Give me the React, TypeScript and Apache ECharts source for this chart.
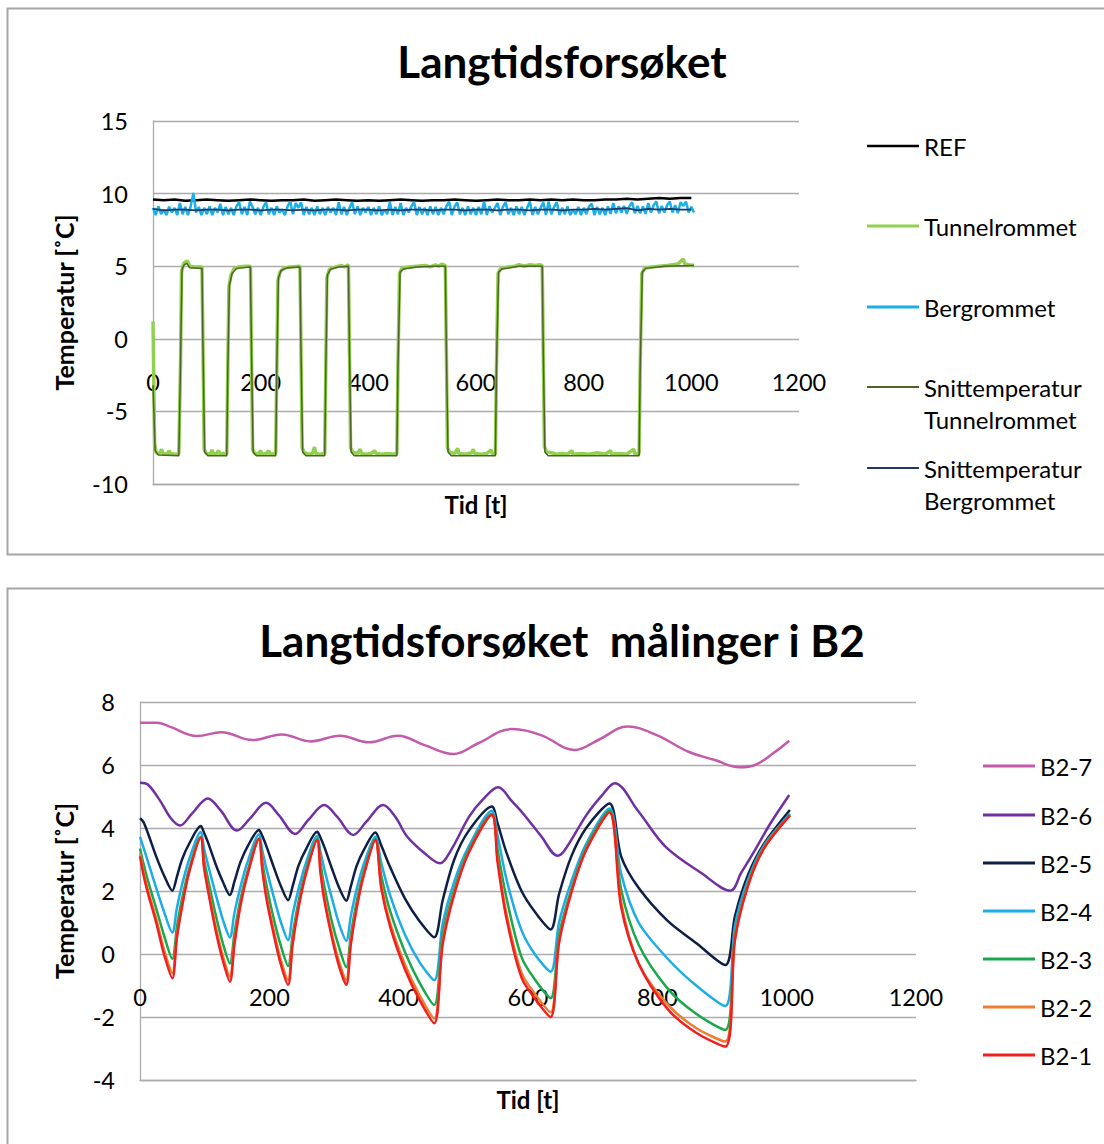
import React, { useEffect, useRef } from "react";
import * as echarts from "echarts";

const FONT = "Lato, 'Open Sans', 'Liberation Sans', sans-serif";

const TOP_TITLE = "Langtidsforsøket";
const BOTTOM_TITLE = "Langtidsforsøket  målinger i B2";
const Y_NAME = "Temperatur [˚C]";
const X_NAME = "Tid [t]";

const xTicks = [0, 200, 400, 600, 800, 1000, 1200];
const yTicksTop = [-10, -5, 0, 5, 10, 15];
const yTicksBottom = [-4, -2, 0, 2, 4, 6, 8];

const topNames = ["REF", "Tunnelrommet", "Bergrommet", "Snittemperatur Tunnelrommet", "Snittemperatur Bergrommet"];
const topColors = ["#000000", "#92D050", "#1AAFE8", "#4F6228", "#1F3864"];

// REF, sampled every 20 h
const REF_STEP = 20;
const refValues = [
  9.6, 9.55, 9.6, 9.5, 9.55, 9.6, 9.55, 9.5, 9.55, 9.6,
  9.55, 9.5, 9.55, 9.55, 9.6, 9.5, 9.55, 9.6, 9.55, 9.5,
  9.55, 9.5, 9.55, 9.6, 9.55, 9.5, 9.55, 9.55, 9.6, 9.55,
  9.5, 9.55, 9.6, 9.55, 9.55, 9.6, 9.55, 9.6, 9.55, 9.6,
  9.55, 9.55, 9.6, 9.6, 9.65, 9.6, 9.65, 9.7, 9.65, 9.7, 9.7,
];

// Bergrommet, sampled every 5 h
const BERG_STEP = 5;
const bergValues = [
  9.02, 8.52, 9.12, 8.58, 8.9, 8.52, 9.1, 8.7, 9.02, 8.52, 9.35, 8.58, 9.08, 8.52, 9.12, 10.05, 8.7, 9.08, 8.52, 9.02,
  8.58, 9.12, 8.52, 9.02, 8.7, 9.3, 8.52, 9.08, 8.58, 9.02, 8.52, 9.12, 9.4, 8.58, 9.08, 8.52, 9.45, 9.08, 8.58, 9.02,
  8.52, 9.08, 9.4, 8.58, 9.02, 8.52, 9.12, 8.7, 8.9, 8.52, 9.12, 9.45, 8.58, 9.35, 9.02, 9.4, 8.52, 9.08, 8.58, 9.02,
  8.52, 9.12, 8.58, 9.02, 8.52, 9.08, 8.7, 9.02, 8.52, 9.4, 8.58, 9.08, 8.52, 9.02, 9.4, 8.58, 9.12, 8.52, 9.02, 8.7,
  9.08, 8.52, 9.02, 8.58, 9.12, 8.52, 8.9, 8.58, 9.4, 8.52, 9.08, 8.58, 9.35, 8.52, 9.02, 8.7, 9.12, 9.4, 8.52, 9.08,
  8.58, 9.02, 8.52, 9.12, 8.58, 9.08, 8.52, 9.02, 8.58, 9.12, 9.45, 8.52, 9.08, 9.4, 8.58, 9.02, 8.52, 9.12, 8.58, 9.02,
  8.52, 9.08, 8.58, 9.45, 8.52, 9.12, 8.7, 9.02, 9.35, 8.52, 9.08, 9.4, 8.58, 9.02, 8.52, 9.12, 8.58, 9.08, 8.52, 9.02,
  9.45, 8.52, 9.08, 8.58, 9.02, 9.4, 8.52, 9.45, 8.58, 9.08, 9.4, 8.52, 9.02, 8.58, 9.12, 8.52, 8.9, 8.58, 9.08, 8.52,
  9.02, 8.58, 9.12, 9.3, 8.52, 9.08, 8.58, 9.02, 8.52, 9.12, 8.6, 9.35, 8.65, 9.12, 8.7, 9.15, 8.6, 9.12, 9.4, 8.65,
  9.15, 8.65, 9.12, 8.6, 9.35, 8.7, 9.2, 9.45, 8.65, 9.15, 8.7, 9.2, 9.45, 8.7, 9.2, 8.65, 9.4, 9.15, 9.45, 8.7,
  9.1, 8.7,
];

// Snittemperatur Bergrommet, every 20 h
const SNITT_BERG_STEP = 20;
const snittBergValues = [
  8.95, 8.85, 8.9, 8.9, 8.85, 8.9, 8.9, 8.85, 8.9, 8.9,
  8.85, 8.9, 8.9, 8.85, 8.9, 8.85, 8.9, 8.9, 8.85, 8.9,
  8.9, 8.85, 8.9, 8.85, 8.9, 8.9, 8.85, 8.9, 8.9, 8.85,
  8.9, 8.9, 8.85, 8.9, 8.9, 8.85, 8.9, 8.9, 8.85, 8.9,
  8.9, 8.95, 8.9, 8.95, 9.0, 8.85, 8.95, 8.9, 8.95, 8.9, 8.9,
];

// Tunnelrommet [t, value]
const tunnelPoints = [
  [0, 1.2], [3, -7.2], [6, -7.85], [12, -7.9], [16, -7.6], [18, -7.9], [26, -7.95], [30, -7.7], [32, -7.9], [40, -7.95], [48, -7.9],
  [51, -2], [53, 4.6], [57, 5.2], [62, 5.35], [65, 5.3], [68, 5.0], [80, 4.95], [91, 4.95],
  [93, -1], [95, -7.6], [99, -7.9], [106, -7.95], [110, -7.65], [112, -7.95], [118, -7.9], [122, -7.7], [124, -7.95], [131, -7.9], [137, -7.95],
  [139, -2], [141, 3.6], [145, 4.4], [150, 4.8], [160, 4.95], [172, 5.0], [181, 5.0],
  [183, -1], [185, -7.6], [189, -7.9], [195, -7.95], [200, -7.7], [202, -7.95], [210, -7.9], [215, -7.7], [217, -7.95], [228, -7.9],
  [230, -2], [232, 4.0], [236, 4.6], [242, 4.85], [255, 4.95], [273, 5.0],
  [275, -1], [277, -7.5], [281, -7.85], [290, -7.95], [296, -7.9], [300, -7.45], [302, -7.9], [310, -7.95], [319, -7.9],
  [321, -2], [323, 4.2], [328, 4.8], [340, 4.95], [350, 5.05], [356, 4.95], [363, 5.1],
  [365, -1], [367, -7.5], [371, -7.8], [380, -7.9], [385, -7.6], [387, -7.9], [395, -7.95], [405, -7.9], [412, -7.7], [414, -7.9], [425, -7.95], [435, -7.9], [445, -7.95], [453, -7.9],
  [455, -2], [458, 4.5], [462, 4.85], [475, 4.95], [490, 5.0], [505, 5.05], [515, 4.95], [525, 5.1], [530, 5.0], [537, 5.15], [543, 5.05],
  [545, -1], [547, -7.5], [551, -7.8], [560, -7.9], [566, -7.55], [568, -7.9], [580, -7.95], [592, -7.85], [595, -7.6], [597, -7.9], [610, -7.95], [620, -7.9], [628, -7.65], [630, -7.9], [636, -7.95],
  [638, -2], [641, 4.5], [646, 4.85], [660, 4.95], [672, 5.0], [680, 5.1], [690, 5.0], [700, 5.1], [710, 5.05], [718, 5.1], [723, 5.05],
  [725, -1], [727, -7.4], [731, -7.8], [740, -7.85], [750, -7.95], [760, -7.9], [770, -7.95], [778, -7.7], [780, -7.95], [795, -7.9], [810, -7.95], [825, -7.85], [840, -7.95], [850, -7.7], [852, -7.95], [865, -7.9], [880, -7.95], [893, -7.6], [895, -7.95], [903, -7.9],
  [905, -2], [908, 4.5], [913, 4.85], [925, 4.95], [940, 5.0], [955, 5.05], [965, 5.1], [975, 5.15], [985, 5.5], [988, 5.15], [995, 5.1], [1005, 5.05],
];

// Snittemperatur Tunnelrommet [t, value]
const snittTunnelPoints = [
  [0, -3.2], [4, -7.7], [10, -8.0], [48, -8.05], [51, -2], [54, 4.8], [58, 5.1], [63, 5.2], [68, 4.9], [91, 4.85],
  [93, -1], [96, -7.8], [102, -8.05], [137, -8.05], [139, -2], [142, 3.7], [147, 4.5], [155, 4.85], [181, 4.95],
  [183, -1], [186, -7.8], [192, -8.05], [228, -8.05], [230, -2], [233, 4.2], [238, 4.7], [250, 4.9], [273, 4.95],
  [275, -1], [278, -7.8], [284, -8.05], [319, -8.05], [321, -2], [324, 4.4], [330, 4.8], [345, 4.95], [363, 5.0],
  [365, -1], [368, -7.8], [374, -8.05], [453, -8.05], [455, -2], [459, 4.6], [465, 4.8], [490, 4.95], [520, 5.0], [543, 5.0],
  [545, -1], [548, -7.8], [554, -8.05], [636, -8.05], [638, -2], [642, 4.6], [648, 4.8], [680, 5.0], [723, 5.0],
  [725, -1], [728, -7.8], [734, -8.05], [903, -8.05], [905, -2], [909, 4.6], [915, 4.85], [950, 5.0], [1005, 5.05],
];

// Bottom chart: B2 sensors
const b2Names = ["B2-7", "B2-6", "B2-5", "B2-4", "B2-3", "B2-2", "B2-1"];
const b2Colors = ["#C45BAA", "#7030A0", "#0E1F45", "#1CADE4", "#19A84C", "#ED7D31", "#F02020"];

const b2Time = [
  0, 5, 12, 25, 37, 50, 57, 65, 76, 94,
  99, 105, 117, 128, 139, 146, 155, 166, 184,
  189, 195, 207, 218, 229, 236, 245, 256, 274,
  279, 285, 297, 308, 319, 326, 335, 346, 364,
  373, 387, 410, 432, 455, 468, 486, 508, 544,
  553, 567, 590, 612, 635, 648, 667, 690, 726,
  744, 771, 816, 860, 905, 920, 940, 965, 1005,
];
const b2_1 = [
  3.1, 2.55, 1.95, 1.0, 0.0, -0.77, 0.5, 1.5, 2.6, 3.7,
  2.75, 2.03, 0.75, -0.2, -0.88, 0.3, 1.5, 2.5, 3.65,
  2.7, 1.82, 0.6, -0.35, -0.98, 0.3, 1.45, 2.5, 3.62,
  2.6, 1.71, 0.5, -0.4, -0.98, 0.3, 1.45, 2.5, 3.62,
  2.1, 0.85, -0.5, -1.45, -2.2, 0.3, 1.9, 3.2, 4.41,
  2.9, 1.1, -0.75, -1.45, -2.0, 0.35, 1.95, 3.3, 4.5,
  1.5, -0.3, -1.75, -2.5, -2.94, 0.44, 2.15, 3.35, 4.4,
];
const b2_2 = [
  3.2, 2.65, 2.05, 1.12, 0.15, -0.6, 0.6, 1.55, 2.62, 3.7,
  2.8, 2.12, 0.87, -0.05, -0.72, 0.4, 1.55, 2.52, 3.65,
  2.78, 1.92, 0.72, -0.2, -0.82, 0.4, 1.5, 2.52, 3.62,
  2.68, 1.82, 0.62, -0.25, -0.82, 0.4, 1.5, 2.52, 3.62,
  2.2, 0.97, -0.35, -1.3, -2.05, 0.4, 1.95, 3.22, 4.42,
  3.0, 1.25, -0.6, -1.3, -1.85, 0.42, 1.98, 3.32, 4.5,
  1.65, -0.3, -1.6, -2.35, -2.78, 0.5, 2.18, 3.37, 4.4,
];
const b2_3 = [
  3.35, 2.9, 2.35, 1.45, 0.6, -0.15, 0.85, 1.75, 2.7, 3.72,
  3.0, 2.4, 1.25, 0.35, -0.3, 0.65, 1.7, 2.6, 3.67,
  2.95, 2.25, 1.1, 0.25, -0.38, 0.6, 1.65, 2.6, 3.65,
  2.9, 2.15, 1.0, 0.2, -0.42, 0.6, 1.65, 2.6, 3.65,
  2.5, 1.35, 0.05, -0.9, -1.62, 0.6, 2.05, 3.28, 4.45,
  3.3, 1.75, -0.1, -0.85, -1.4, 0.6, 2.05, 3.38, 4.55,
  2.05, 0.3, -1.1, -1.9, -2.41, 0.6, 2.22, 3.4, 4.42,
];
const b2_4 = [
  3.72, 3.4, 2.95, 2.1, 1.35, 0.68, 1.45, 2.2, 3.0, 3.87,
  3.35, 2.85, 1.9, 1.1, 0.53, 1.3, 2.1, 2.9, 3.8,
  3.3, 2.75, 1.8, 1.0, 0.44, 1.25, 2.05, 2.85, 3.75,
  3.25, 2.7, 1.75, 0.95, 0.42, 1.2, 2.05, 2.85, 3.72,
  2.9, 1.85, 0.6, -0.25, -0.83, 0.95, 2.3, 3.4, 4.55,
  3.75, 2.35, 0.75, -0.05, -0.56, 1.0, 2.3, 3.5, 4.62,
  2.55, 1.0, -0.15, -1.0, -1.65, 0.9, 2.35, 3.45, 4.45,
];
const b2_5 = [
  4.31, 4.2, 3.85, 3.1, 2.5, 2.01, 2.45, 3.0, 3.5, 4.06,
  3.85, 3.55, 2.85, 2.3, 1.87, 2.3, 2.9, 3.4, 3.94,
  3.75, 3.45, 2.75, 2.15, 1.71, 2.15, 2.8, 3.3, 3.88,
  3.7, 3.4, 2.7, 2.1, 1.69, 2.15, 2.8, 3.3, 3.86,
  3.45, 2.75, 1.75, 1.05, 0.53, 1.7, 3.0, 3.9, 4.68,
  4.15, 3.2, 2.0, 1.3, 0.78, 1.9, 3.1, 4.0, 4.78,
  3.1, 2.1, 1.05, 0.35, -0.35, 1.2, 2.5, 3.5, 4.57,
];
const b26Time = [
  0, 12, 30, 48, 62, 80, 105, 125, 150, 170, 195, 215, 240, 260, 285, 305, 330, 350, 376, 395,
  413, 440, 464, 481, 509, 530, 554, 575, 592, 620, 646, 657, 690, 715, 734, 770, 813, 868, 913, 930, 951, 975, 1004,
];
const b2_6 = [
  5.44, 5.38, 4.9, 4.3, 4.08, 4.45, 4.94, 4.55, 3.92, 4.3, 4.8, 4.4, 3.81, 4.25, 4.73, 4.35, 3.78, 4.2, 4.73, 4.35,
  3.73, 3.2, 2.88, 3.3, 4.36, 4.9, 5.29, 4.85, 4.47, 3.75, 3.12, 3.3, 4.4, 5.05, 5.42, 4.55, 3.4, 2.57, 2.01, 2.59, 3.3, 4.15, 5.05,
];
const b27Time = [0, 26, 46, 88, 126, 174, 219, 264, 309, 354, 399, 440, 485, 523, 575, 620, 672, 710, 754, 799, 848, 889, 927, 951, 979, 1004];
const b2_7 = [7.34, 7.34, 7.22, 6.92, 7.04, 6.79, 6.97, 6.75, 6.93, 6.72, 6.93, 6.63, 6.35, 6.69, 7.14, 6.95, 6.48, 6.81, 7.22, 6.95, 6.42, 6.16, 5.93, 6.0, 6.37, 6.77];

const GRID_COLOR = "#ABABAB";

function stepPairs(step: number, values: number[]) {
  return values.map((v, i) => [i * step, v]);
}
function zip(times: number[], values: number[]) {
  return times.map((t, i) => [t, values[i]]);
}

function axisPair(gridIndex: number, yTicks: number[], labelMargin: number, xNameGap: number, yNameGap: number) {
  const yInterval = yTicks[1] - yTicks[0];
  const xInterval = xTicks[1] - xTicks[0];
  const xAxis = {
    type: "value",
    gridIndex,
    position: "bottom",
    min: xTicks[0],
    max: xTicks[xTicks.length - 1],
    interval: xInterval,
    axisLine: { show: true, onZero: false, lineStyle: { color: GRID_COLOR, width: 1.3 } },
    axisTick: { show: false },
    splitLine: { show: false },
    axisLabel: {
      margin: labelMargin,
      fontSize: 23.5,
      color: "#000",
      fontFamily: FONT,
      formatter: (v: number) => String(v),
    },
    name: X_NAME,
    nameLocation: "middle",
    nameGap: xNameGap,
    nameMoveOverlap: false,
    nameTextStyle: { fontSize: 24, fontWeight: "bold", color: "#000", fontFamily: FONT },
  };
  const yAxis = {
    type: "value",
    gridIndex,
    min: yTicks[0],
    max: yTicks[yTicks.length - 1],
    interval: yInterval,
    axisLine: { show: true, onZero: false, lineStyle: { color: GRID_COLOR, width: 1.3 } },
    axisTick: { show: false },
    splitLine: { show: true, lineStyle: { color: GRID_COLOR, width: 1.3 } },
    axisLabel: {
      margin: 25,
      fontSize: 23.5,
      color: "#000",
      fontFamily: FONT,
      formatter: (v: number) => String(v),
    },
    name: Y_NAME,
    nameLocation: "middle",
    nameRotate: 90,
    nameGap: yNameGap,
    nameMoveOverlap: false,
    nameTextStyle: { fontSize: 25, fontWeight: "bold", color: "#000", fontFamily: FONT },
  };
  return { xAxis, yAxis };
}

function legendItem(name: string, left: number, centerY: number, twoLine: boolean, iconH: number) {
  const lh = 32;
  return {
    data: [name],
    left,
    top: twoLine ? centerY - lh * 1.5 : centerY - lh / 2,
    orient: "vertical",
    padding: 0,
    itemGap: 0,
    itemWidth: 52,
    itemHeight: iconH,
    icon: "rect",
    selectedMode: false,
    formatter: (n: string) => (twoLine ? "\n" + n.replace(" ", "\n") : n),
    textStyle: { fontSize: 24, color: "#000", fontFamily: FONT, lineHeight: lh },
  };
}

function lineSeries(name: string, color: string, width: number, data: number[][], gridIndex: number, z: number, smooth: number) {
  return {
    type: "line",
    name,
    data,
    xAxisIndex: gridIndex,
    yAxisIndex: gridIndex,
    showSymbol: false,
    symbol: "none",
    smooth: smooth > 0 ? smooth : false,
    lineStyle: { color, width },
    itemStyle: { color },
    emphasis: { disabled: true },
    silent: true,
    z,
  };
}

export default function App() {
  const ref = useRef<HTMLDivElement>(null);

  useEffect(() => {
    if (!ref.current) return;
    const chart = echarts.init(ref.current, undefined, { renderer: "svg" });

    const top = axisPair(0, yTicksTop, -114, 8, 77);
    const bottom = axisPair(1, yTicksBottom, -95, 7, 64);

    const topLegendY = [146, 226, 307, 387, 468];
    const topIconH = [2.5, 3, 3, 2, 2];
    const bottomLegendY = [766, 815, 863, 911, 959, 1007, 1055];

    const option = {
      animation: false,
      backgroundColor: "#ffffff",
      title: [
        {
          text: TOP_TITLE,
          left: 562,
          top: 61,
          padding: 0,
          textAlign: "center",
          textVerticalAlign: "middle",
          textStyle: { fontSize: 44, fontWeight: "bold", color: "#000", fontFamily: FONT },
        },
        {
          text: BOTTOM_TITLE,
          left: 562,
          top: 640,
          padding: 0,
          textAlign: "center",
          textVerticalAlign: "middle",
          textStyle: { fontSize: 44, fontWeight: "bold", color: "#000", fontFamily: FONT },
        },
      ],
      grid: [
        { left: 153, top: 121, width: 646, height: 363, outerBoundsMode: "none", containLabel: false },
        { left: 140, top: 702, width: 776, height: 378, outerBoundsMode: "none", containLabel: false },
      ],
      xAxis: [top.xAxis, bottom.xAxis],
      yAxis: [top.yAxis, bottom.yAxis],
      legend: [
        ...topNames.map((n, i) => legendItem(n, 867, topLegendY[i], i >= 3, topIconH[i])),
        ...b2Names.map((n, i) => legendItem(n, 983, bottomLegendY[i], false, 3)),
      ],
      graphic: [
        { type: "rect", shape: { x: 7.5, y: 8.5, width: 1120, height: 546 }, style: { fill: "none", stroke: "#A6A6A6", lineWidth: 2 }, silent: true },
        { type: "rect", shape: { x: 7.5, y: 588.5, width: 1120, height: 600 }, style: { fill: "none", stroke: "#A6A6A6", lineWidth: 2 }, silent: true },
      ],
      series: [
        lineSeries(topNames[0], topColors[0], 2.5, stepPairs(REF_STEP, refValues), 0, 2, 0),
        lineSeries(topNames[1], topColors[1], 3.5, tunnelPoints, 0, 3, 0),
        lineSeries(topNames[2], topColors[2], 2.5, stepPairs(BERG_STEP, bergValues), 0, 4, 0),
        lineSeries(topNames[3], topColors[3], 1.5, snittTunnelPoints, 0, 5, 0),
        lineSeries(topNames[4], topColors[4], 1.8, stepPairs(SNITT_BERG_STEP, snittBergValues), 0, 6, 0),
        lineSeries(b2Names[0], b2Colors[0], 2.5, zip(b27Time, b2_7), 1, 2, 0.4),
        lineSeries(b2Names[1], b2Colors[1], 2.5, zip(b26Time, b2_6), 1, 3, 0.35),
        lineSeries(b2Names[2], b2Colors[2], 2.5, zip(b2Time, b2_5), 1, 4, 0.3),
        lineSeries(b2Names[3], b2Colors[3], 2.5, zip(b2Time, b2_4), 1, 5, 0.3),
        lineSeries(b2Names[4], b2Colors[4], 2.5, zip(b2Time, b2_3), 1, 6, 0.3),
        lineSeries(b2Names[5], b2Colors[5], 2.5, zip(b2Time, b2_2), 1, 7, 0.3),
        lineSeries(b2Names[6], b2Colors[6], 2.5, zip(b2Time, b2_1), 1, 8, 0.3),
      ],
    };

    chart.setOption(option as any);
    return () => chart.dispose();
  }, []);

  return (
    <div
      ref={ref}
      style={{ position: "absolute", left: 0, top: 0, width: 1104, height: 1144, background: "#fff" }}
    />
  );
}
